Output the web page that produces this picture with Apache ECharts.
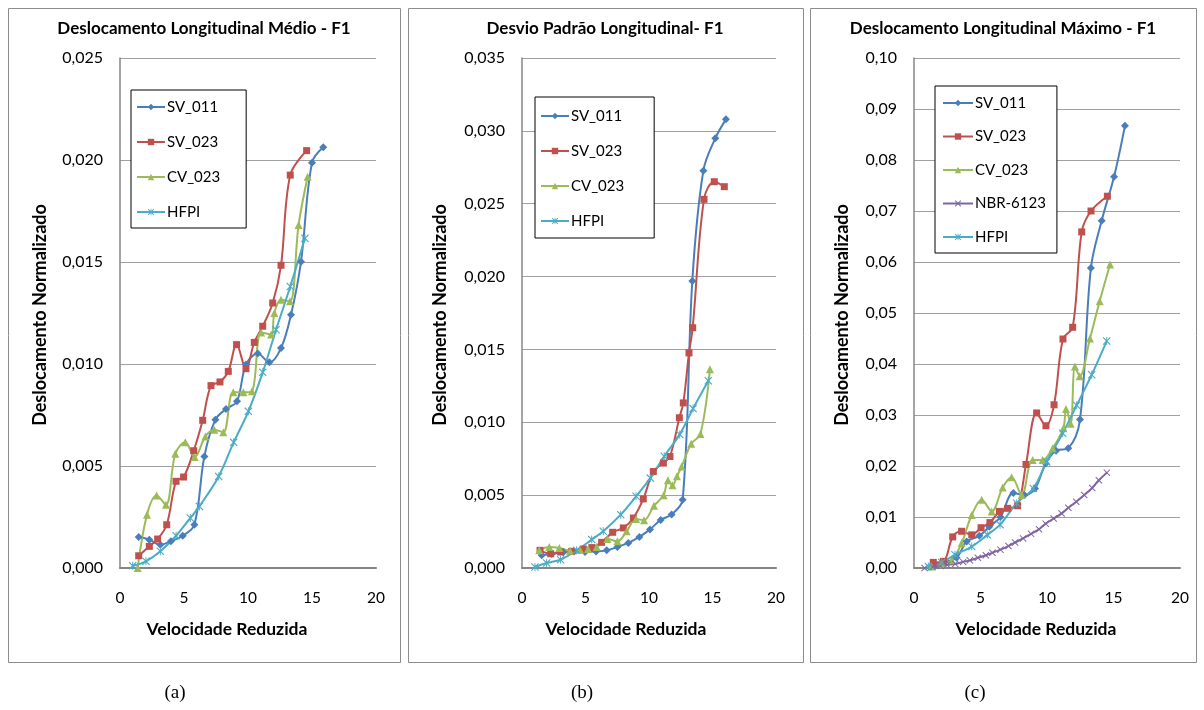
<!DOCTYPE html>
<html>
<head>
<meta charset="utf-8">
<script src="https://cdn.jsdelivr.net/npm/echarts@6/dist/echarts.min.js"></script>
<style>
html,body{margin:0;padding:0;background:#fff;}
#c{width:1204px;height:710px;}
</style>
</head>
<body>
<div id="c"></div>
<script>
// ---------- Panel (a): Deslocamento Longitudinal Médio ----------
const A_SV011_x = [1.46,2.29,3.15,3.98,4.90,5.81,6.59,7.45,8.28,9.14,9.84,10.76,11.67,12.58,13.36,14.14,15.0,15.88];
const A_SV011_y = [0.00152,0.00139,0.00114,0.00131,0.00158,0.00212,0.00547,0.00727,0.00779,0.00817,0.00997,0.01051,0.01008,0.01078,0.01242,0.01501,0.01987,0.02062];
const A_SV023_x = [1.46,2.29,2.94,3.65,4.38,4.97,5.76,6.46,7.11,7.81,8.46,9.11,9.84,10.49,11.15,11.93,12.58,13.3,14.58];
const A_SV023_y = [0.00060,0.00106,0.00142,0.00212,0.00425,0.00446,0.00575,0.00724,0.00894,0.00912,0.00964,0.01095,0.00977,0.01106,0.01185,0.01299,0.01484,0.01926,0.02046];
const A_CV023_x = [1.38,2.11,2.86,3.59,4.32,5.10,5.83,6.67,7.37,8.07,8.85,9.64,10.31,11.02,11.80,12.06,12.58,13.28,13.95,14.66];
const A_CV023_y = [0.0,0.00261,0.00355,0.00310,0.00560,0.00616,0.00544,0.00645,0.00678,0.00665,0.00861,0.00861,0.00866,0.01155,0.01144,0.01250,0.01315,0.01307,0.01681,0.01918];
const A_HFPI_x = [0.99,2.03,3.15,4.38,5.49,6.2,7.71,8.88,10.03,11.15,12.19,13.3,14.45];
const A_HFPI_y = [0.00011,0.00033,0.00082,0.00158,0.00245,0.00302,0.00449,0.00616,0.00768,0.00959,0.01168,0.01380,0.01616];

// ---------- Panel (b): Desvio Padrão Longitudinal ----------
const B_SV011_x = [1.55,2.34,3.25,4.09,4.96,5.83,6.67,7.51,8.37,9.24,10.08,10.92,11.78,12.65,13.41,14.28,15.22,16.06];
const B_SV011_y = [0.00087,0.00096,0.00108,0.00114,0.00110,0.00114,0.00121,0.00144,0.00172,0.00213,0.00265,0.00330,0.00368,0.00468,0.01970,0.02727,0.02949,0.03079];
const B_SV023_x = [1.42,2.26,3.04,3.91,4.83,5.5,6.27,7.14,7.98,8.77,9.55,10.34,11.13,11.65,12.39,12.7,13.15,13.44,14.33,15.14,15.93];
const B_SV023_y = [0.00121,0.00098,0.00110,0.00114,0.00130,0.00140,0.00176,0.00245,0.00275,0.00343,0.00474,0.00662,0.00720,0.00765,0.01031,0.01133,0.01476,0.01649,0.02530,0.02651,0.02617];
const B_CV023_x = [1.36,2.15,2.94,3.78,4.57,5.2,5.88,6.72,7.51,8.24,8.98,9.61,10.39,11.15,11.49,11.85,12.2,12.57,13.32,14.05,14.8];
const B_CV023_y = [0.00121,0.00144,0.00137,0.00119,0.00126,0.00130,0.00144,0.00199,0.00183,0.00252,0.00336,0.00328,0.00427,0.00500,0.00603,0.00568,0.00630,0.00697,0.00852,0.00920,0.01364];
const B_HFPI_x = [1.02,1.94,3.04,4.3,5.49,6.4,7.77,8.98,10.1,11.2,12.42,13.47,14.67];
const B_HFPI_y = [0.00007,0.00034,0.00057,0.00121,0.00195,0.00252,0.00366,0.00492,0.00617,0.00767,0.00917,0.01094,0.01285];

// ---------- Panel (c): Deslocamento Longitudinal Máximo ----------
const C_SV011_x = [1.45,2.3,3.2,3.96,4.91,5.66,6.5,7.47,8.3,9.1,9.9,10.68,11.6,12.48,13.3,14.11,15.04,15.86];
const C_SV011_y = [0.0008,0.0012,0.0020,0.0052,0.0063,0.0081,0.0100,0.0147,0.0143,0.0156,0.0205,0.0230,0.0235,0.0291,0.0588,0.0681,0.0767,0.0867];
const C_SV023_x = [1.45,2.21,2.91,3.58,4.34,5.04,5.71,6.42,7.04,7.79,8.42,9.22,9.92,10.53,11.2,11.93,12.61,13.31,14.54];
const C_SV023_y = [0.0011,0.0013,0.0061,0.0072,0.0065,0.0079,0.0089,0.0111,0.0117,0.0122,0.0203,0.0304,0.0279,0.0320,0.0449,0.0472,0.0659,0.0700,0.0729];
const C_CV023_x = [1.3,2.1,2.85,3.58,4.34,5.09,5.84,6.67,7.34,8.1,8.92,9.67,10.43,11.23,11.43,11.78,12.1,12.46,13.23,13.96,14.74];
const C_CV023_y = [0.0003,0.0008,0.0015,0.0049,0.0104,0.0134,0.0111,0.0158,0.0178,0.0143,0.0212,0.0212,0.0235,0.0274,0.0312,0.0283,0.0395,0.0376,0.0450,0.0523,0.0595];
const C_NBR_x = [0.8,1.4,2.0,2.5,3.1,3.7,4.2,4.8,5.4,5.9,6.5,7.1,7.6,8.2,8.8,9.4,9.9,10.5,11.1,11.6,12.2,12.8,13.4,13.9,14.5];
const C_NBR_y = [0.0000,0.0002,0.0004,0.0006,0.0008,0.0012,0.0015,0.0020,0.0025,0.0030,0.0036,0.0043,0.0050,0.0058,0.0067,0.0076,0.0087,0.0097,0.0107,0.0118,0.0130,0.0143,0.0157,0.0172,0.0187];
const C_HFPI_x = [1.08,2.08,3.08,4.34,5.51,6.47,7.72,8.97,9.97,11.18,12.23,13.36,14.49];
const C_HFPI_y = [0.0003,0.0011,0.0026,0.0042,0.0065,0.0085,0.0127,0.0156,0.0208,0.0264,0.0319,0.0379,0.0445];

// ---------- labels ----------
const titles = ['Deslocamento Longitudinal Médio - F1','Desvio Padrão Longitudinal- F1','Deslocamento Longitudinal Máximo - F1'];
const xTitle = 'Velocidade Reduzida';
const yTitle = 'Deslocamento Normalizado';
const captions = ['(a)','(b)','(c)'];
const xTicks = [0,5,10,15,20];
const yMaxes = [0.025,0.035,0.10];
const yIntervals = [0.005,0.005,0.01];
const yDecimals = [3,3,2];

// ---------- styling ----------
const COLORS = {'SV_011':'#4A7EBB','SV_023':'#C0504D','CV_023':'#9BBB59','NBR-6123':'#8064A2','HFPI':'#4BACC6'};
const XPATH = 'path://M0,1L1,0L5,4L9,0L10,1L6,5L10,9L9,10L5,6L1,10L0,9L4,5Z';
const STARPATH = 'path://M0,1L1,0L5,4L9,0L10,1L6,5L10,9L9,10L5,6L1,10L0,9L4,5Z M4.4,0L5.6,0L5.6,10L4.4,10Z';
const SYMBOLS = {'SV_011':['diamond',8],'SV_023':['rect',7],'CV_023':['triangle',8],'NBR-6123':[XPATH,7],'HFPI':[STARPATH,8]};
const FONT = 'Lato';

const grids = [
  {left:120, top:58, width:256, height:510},
  {left:522, top:58, width:254, height:510},
  {left:914, top:58, width:266, height:510}
];

function zip(xs, ys){ return xs.map((x,i)=>[x, ys[i]]); }
function mkSeries(name, xs, ys, idx){
  return {
    name:name, type:'line', xAxisIndex:idx, yAxisIndex:idx,
    data: zip(xs, ys), smooth:0.35,
    symbol: SYMBOLS[name][0], symbolSize: SYMBOLS[name][1],
    showAllSymbol:true,
    lineStyle:{color:COLORS[name], width:2},
    itemStyle:{color:COLORS[name]},
    animation:false
  };
}

const series = [
  mkSeries('SV_011', A_SV011_x, A_SV011_y, 0),
  mkSeries('SV_023', A_SV023_x, A_SV023_y, 0),
  mkSeries('CV_023', A_CV023_x, A_CV023_y, 0),
  mkSeries('HFPI', A_HFPI_x, A_HFPI_y, 0),
  mkSeries('SV_011', B_SV011_x, B_SV011_y, 1),
  mkSeries('SV_023', B_SV023_x, B_SV023_y, 1),
  mkSeries('CV_023', B_CV023_x, B_CV023_y, 1),
  mkSeries('HFPI', B_HFPI_x, B_HFPI_y, 1),
  mkSeries('SV_011', C_SV011_x, C_SV011_y, 2),
  mkSeries('SV_023', C_SV023_x, C_SV023_y, 2),
  mkSeries('CV_023', C_CV023_x, C_CV023_y, 2),
  mkSeries('NBR-6123', C_NBR_x, C_NBR_y, 2),
  mkSeries('HFPI', C_HFPI_x, C_HFPI_y, 2)
];

const xAxes = grids.map((g,i)=>({
  type:'value', gridIndex:i, min:xTicks[0], max:xTicks[xTicks.length-1], interval:xTicks[1]-xTicks[0],
  axisLine:{onZero:false, lineStyle:{color:'#868686', width:2}},
  axisTick:{show:false},
  splitLine:{show:false},
  axisLabel:{color:'#000', fontFamily:FONT, fontSize:15.5, margin:22}
}));
const yAxes = grids.map((g,i)=>({
  type:'value', gridIndex:i, min:0, max:yMaxes[i], interval:yIntervals[i],
  axisLine:{show:true, lineStyle:{color:'#868686', width:1.5}},
  axisTick:{show:false},
  splitLine:{show:true, lineStyle:{color:'#A0A0A0', width:1}},
  axisLabel:{color:'#000', fontFamily:FONT, fontSize:16, margin:17,
    formatter:v=>v.toFixed(yDecimals[i]).replace('.',',')}
}));

const legendCommon = {
  orient:'vertical', backgroundColor:'#fff', borderColor:'#000', borderWidth:1,
  itemWidth:28, itemHeight:8, itemGap:19,
  textStyle:{color:'#000', fontFamily:FONT, fontSize:15, lineHeight:16, padding:[0,0,0,-3]},
  selectedMode:false
};
const legends = [
  Object.assign({}, legendCommon, {left:131, top:90, padding:[9,26,8,5], data:['SV_011','SV_023','CV_023','HFPI']}),
  Object.assign({}, legendCommon, {left:535, top:97, padding:[11,30,9,5], data:['SV_011','SV_023','CV_023','HFPI']}),
  Object.assign({}, legendCommon, {left:935, top:86, padding:[9,11,8,7], itemGap:17.5, itemWidth:30, data:['SV_011','SV_023','CV_023','NBR-6123','HFPI']})
];

const panelBoxes = [[8,8,392,654],[408,8,395,654],[810,8,386,654]];
const titleX = [204, 605, 1003];
const xTitleX = [227, 626, 1036];
const yTitleX = [40, 440, 842];
const captionX = [175, 582, 975];

const graphics = [];
panelBoxes.forEach(b=>graphics.push({type:'rect', shape:{x:b[0]+0.5,y:b[1]+0.5,width:b[2],height:b[3]}, style:{fill:'none', stroke:'#8C8C8C', lineWidth:1}, z:-1}));
titles.forEach((t,i)=>graphics.push({type:'text', x:titleX[i], y:29, style:{text:t, fill:'#000', font:'bold 17px '+FONT, align:'center', verticalAlign:'middle'}}));
titles.forEach((t,i)=>graphics.push({type:'text', x:xTitleX[i], y:629, style:{text:xTitle, fill:'#000', font:'bold 17.5px '+FONT, align:'center', verticalAlign:'middle'}}));
titles.forEach((t,i)=>graphics.push({type:'text', x:yTitleX[i], y:315, rotation:Math.PI/2, style:{text:yTitle, fill:'#000', font:'bold 18px '+FONT, align:'center', verticalAlign:'middle'}}));
captions.forEach((t,i)=>graphics.push({type:'text', x:captionX[i], y:693, style:{text:t, fill:'#000', font:'19px "Liberation Serif"', align:'center', verticalAlign:'middle'}}));

const chart = echarts.init(document.getElementById('c'), null, {renderer:'canvas'});
chart.setOption({
  animation:false,
  backgroundColor:'#fff',
  grid:grids,
  xAxis:xAxes,
  yAxis:yAxes,
  legend:legends,
  series:series,
  graphic:graphics
});
</script>
</body>
</html>
